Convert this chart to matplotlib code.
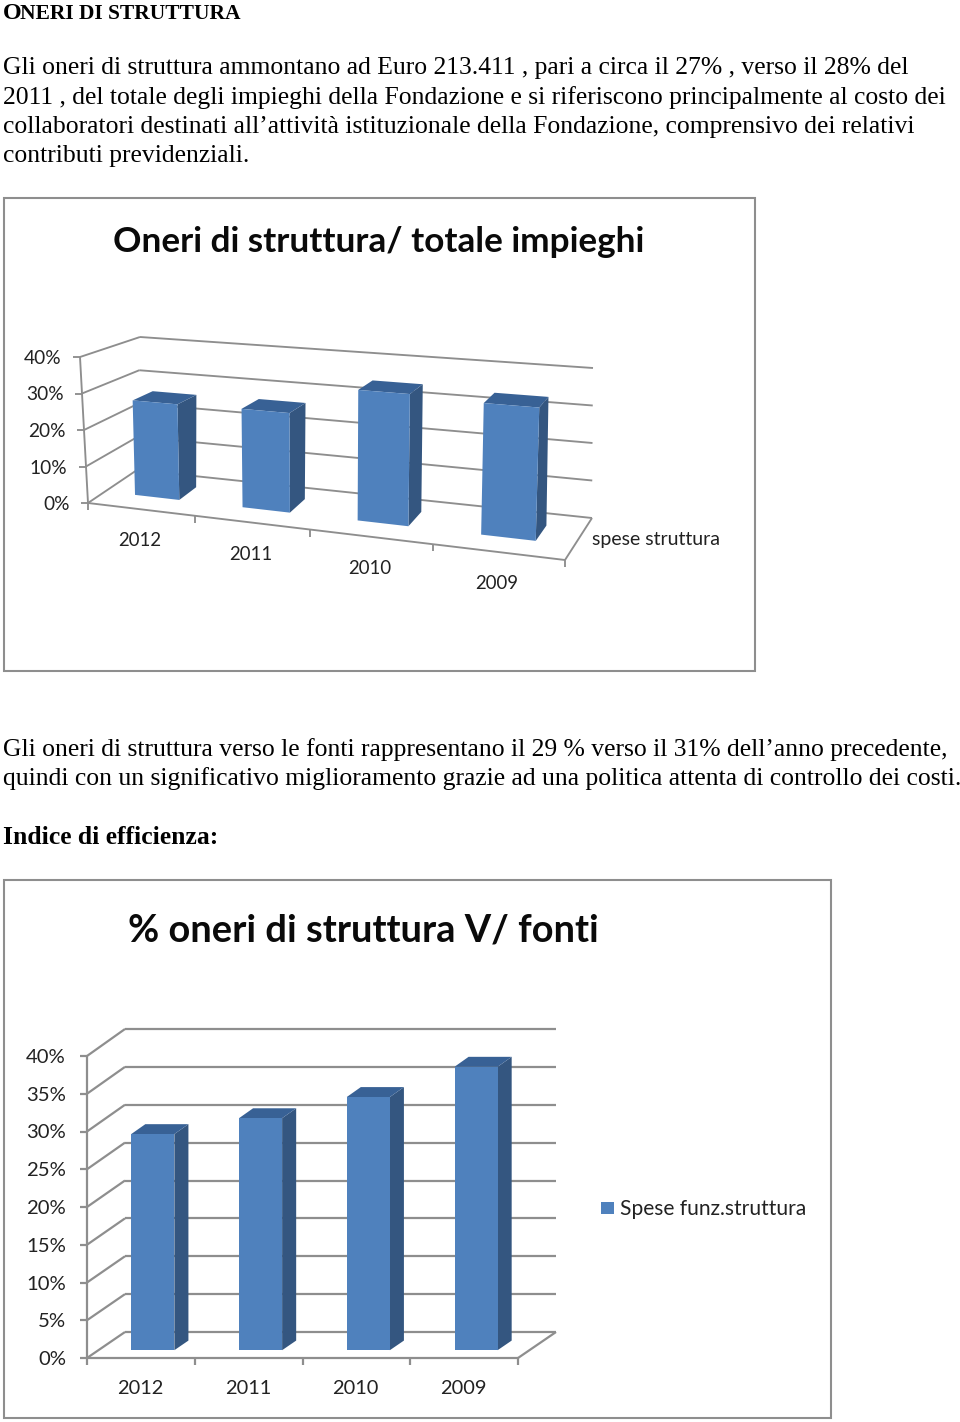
import matplotlib
matplotlib.use("Agg")
import matplotlib.pyplot as plt
from matplotlib.patches import Polygon, Rectangle

W, H = 960, 1422

heading_first = "O"
heading_rest = "NERI DI STRUTTURA"
para1 = [
    "Gli oneri di struttura ammontano ad Euro 213.411 , pari a circa il 27% , verso il 28% del",
    "2011 , del totale degli impieghi della Fondazione e si riferiscono principalmente al costo dei",
    "collaboratori destinati all’attività istituzionale della Fondazione, comprensivo dei relativi",
    "contributi previdenziali.",
]
para2 = [
    "Gli oneri di struttura verso le fonti rappresentano il 29 % verso il 31% dell’anno precedente,",
    "quindi con un significativo miglioramento grazie ad una politica attenta di controllo dei costi.",
]
subheading = "Indice di efficienza:"

years = ["2012", "2011", "2010", "2009"]

title1 = "Oneri di struttura/ totale impieghi"
values1 = [26.5, 26.8, 34.5, 33.7]
ticks1 = [0, 10, 20, 30, 40]
series1 = "spese struttura"

title2 = "% oneri di struttura V/ fonti"
values2 = [28.6, 30.7, 33.5, 37.5]
ticks2 = [0, 5, 10, 15, 20, 25, 30, 35, 40]
series2 = "Spese funz.struttura"

GREY = "#8e8e8e"
FRONT = "#4f81bd"
SIDE = "#345680"
TOP = "#386195"
SERIF = "Liberation Serif"
SANS = "Lato"


def make_proj(corners, vmax, warp):
    # corners: front/back, left/right, bottom/top in page pixels
    def proj(c, v, d):
        u = c / 4
        t = u / (u + warp * (1 - u))
        s = v / vmax
        out = []
        for k in (0, 1):
            fb = (1 - t) * corners["flb"][k] + t * corners["frb"][k]
            ft = (1 - t) * corners["flt"][k] + t * corners["frt"][k]
            bb = (1 - t) * corners["blb"][k] + t * corners["brb"][k]
            bt = (1 - t) * corners["blt"][k] + t * corners["brt"][k]
            front = (1 - s) * fb + s * ft
            back = (1 - s) * bb + s * bt
            out.append((1 - d) * front + d * back)
        return out
    return proj


def seg(ax, p, q, lw):
    ax.plot([p[0], q[0]], [p[1], q[1]], color=GREY, lw=lw, solid_capstyle="butt", zorder=2)


def draw_chart(ax, proj, values, ticks, bar_lo, bar_hi, d0, d1, lw):
    vmax = ticks[-1]
    for v in ticks:
        seg(ax, proj(0, v, 0), proj(0, v, 1), lw)
        seg(ax, proj(0, v, 1), proj(4, v, 1), lw)
        x, y = proj(0, v, 0)
        seg(ax, (x - 7, y), (x, y), lw)
    seg(ax, proj(0, 0, 0), proj(0, vmax, 0), lw)
    seg(ax, proj(0, 0, 0), proj(4, 0, 0), lw)
    seg(ax, proj(4, 0, 0), proj(4, 0, 1), lw)
    for c in range(5):
        x, y = proj(c, 0, 0)
        seg(ax, (x, y), (x, y + 7), lw)

    for i, val in enumerate(values):
        a, b = i + bar_lo, i + bar_hi
        front = [proj(a, 0, d0), proj(b, 0, d0), proj(b, val, d0), proj(a, val, d0)]
        side = [proj(b, 0, d0), proj(b, 0, d1), proj(b, val, d1), proj(b, val, d0)]
        top = [proj(a, val, d0), proj(b, val, d0), proj(b, val, d1), proj(a, val, d1)]
        ax.add_patch(Polygon(side, color=SIDE, lw=0, zorder=3))
        ax.add_patch(Polygon(top, color=TOP, lw=0, zorder=3))
        ax.add_patch(Polygon(front, color=FRONT, lw=0, zorder=4))


fig = plt.figure(figsize=(W / 100, H / 100), dpi=100, facecolor="white")
ax = fig.add_axes([0, 0, 1, 1])
ax.set_xlim(0, W)
ax.set_ylim(H, 0)
ax.axis("off")

# page text
ax.text(3, 19, heading_first, family=SERIF, weight="bold", fontsize=17.3, color="black")
ax.text(20, 19, heading_rest, family=SERIF, weight="bold", fontsize=15.5, color="black")
for line, y in zip(para1, [74.2, 103.7, 132.8, 162.3]):
    ax.text(3, y, line, family=SERIF, fontsize=18.47, color="black")
for line, y in zip(para2, [756, 785]):
    ax.text(3, y, line, family=SERIF, fontsize=18.47, color="black")
ax.text(3, 844.5, subheading, family=SERIF, weight="bold", fontsize=18.47, color="black")

# first chart, in perspective
ax.add_patch(Rectangle((4, 198), 751, 473, fc="white", ec=GREY, lw=1.5, zorder=1))
proj1 = make_proj({
    "flb": (88, 503), "flt": (80, 357), "frb": (565, 560), "frt": (572, 395),
    "blb": (137, 470), "blt": (140, 337), "brb": (592, 518), "brt": (593, 368),
}, ticks1[-1], 1.15)
draw_chart(ax, proj1, values1, ticks1, 0.29, 0.71, 0.35, 0.72, 1.35)
ax.text(379, 241.5, title1, family=SANS, weight="bold", fontsize=25.3, ha="center", va="center", color="#0a0a0a")
for v in ticks1:
    x, y = proj1(0, v, 0)
    ax.text(x - 18.5, y + 1.5, "%d%%" % v, family=SANS, fontsize=13.8, ha="right", va="center", color="#222222")
for i, year in enumerate(years):
    x, y = proj1(i + 0.5, 0, 0)
    ax.text(x - 0.7, y + 31.5, year, family=SANS, fontsize=13.4, ha="center", va="center", color="#222222")
ax.text(592, 540, series1, family=SANS, fontsize=14.05, va="center", color="#222222")

# second chart, flat oblique view
ax.add_patch(Rectangle((4, 880), 827, 538, fc="white", ec=GREY, lw=1.5, zorder=1))
proj2 = make_proj({
    "flb": (87, 1358), "flt": (87, 1056), "frb": (518, 1358), "frt": (518, 1056),
    "blb": (125, 1332), "blt": (125, 1029), "brb": (556, 1332), "brt": (556, 1029),
}, ticks2[-1], 1.0)
draw_chart(ax, proj2, values2, ticks2, 0.305, 0.705, 0.30, 0.67, 1.6)
ax.text(363, 930, title2, family=SANS, weight="bold", fontsize=27.4, ha="center", va="center", color="#0a0a0a")
for v in ticks2:
    x, y = proj2(0, v, 0)
    ax.text(x - 21, y + 1.5, "%d%%" % v, family=SANS, fontsize=14.6, ha="right", va="center", color="#222222")
for i, year in enumerate(years):
    x, y = proj2(i + 0.5, 0, 0)
    ax.text(x - 0.7, y + 30, year, family=SANS, fontsize=14.4, ha="center", va="center", color="#222222")
ax.add_patch(Rectangle((601, 1202), 13, 12, color=FRONT, lw=0, zorder=3))
ax.text(620, 1209, series2, family=SANS, fontsize=15.15, va="center", color="#222222")

fig.savefig("out.png", dpi=100, facecolor="white")
